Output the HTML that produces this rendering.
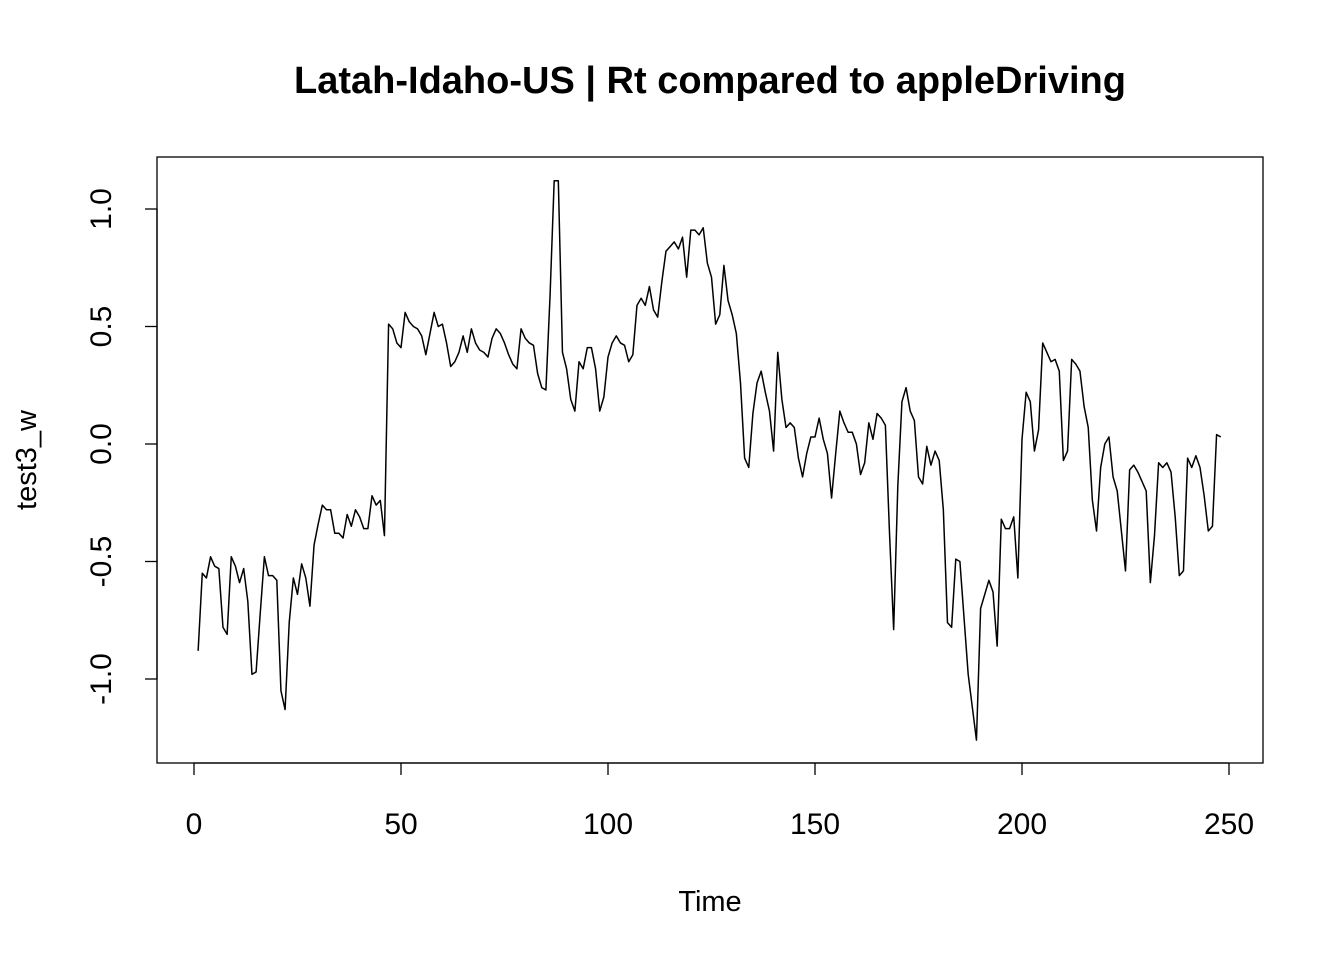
<!DOCTYPE html>
<html><head><meta charset="utf-8"><style>
body{margin:0;background:#fff}
svg text{font-family:"Liberation Sans",Arial,sans-serif;fill:#000}
</style></head><body>
<svg id="chart" width="1344" height="960" viewBox="0 0 1344 960">
<text x="710" y="93" text-anchor="middle" font-size="38" font-weight="bold">Latah-Idaho-US | Rt compared to appleDriving</text>
<rect x="157" y="157" width="1106" height="606" fill="none" stroke="#000" stroke-width="1.3"/>
<g id="xaxis"></g>
<g id="yaxis"></g>
<text x="710" y="911" text-anchor="middle" font-size="29">Time</text>
<text transform="translate(36,460) rotate(-90)" text-anchor="middle" font-size="29">test3_w</text>
<path id="series" fill="none" stroke="#000" stroke-width="1.5" stroke-linejoin="round"/>
</svg>
<script>
const values = [-0.88,-0.55,-0.57,-0.48,-0.52,-0.53,-0.78,-0.81,-0.48,-0.52,-0.59,-0.53,-0.67,-0.98,-0.97,-0.72,-0.48,-0.56,-0.56,-0.58,-1.05,-1.13,-0.76,-0.57,-0.64,-0.51,-0.57,-0.69,-0.43,-0.34,-0.26,-0.28,-0.28,-0.38,-0.38,-0.40,-0.30,-0.35,-0.28,-0.31,-0.36,-0.36,-0.22,-0.26,-0.24,-0.39,
0.51,0.49,0.43,0.41,0.56,0.52,0.50,0.49,0.46,0.38,0.47,0.56,0.50,0.51,0.43,0.33,0.35,0.39,0.46,0.39,0.49,0.43,0.40,0.39,0.37,0.45,0.49,0.47,0.43,0.38,0.34,0.32,0.49,0.45,0.43,0.42,0.30,0.24,0.23,0.63,1.12,1.12,0.39,0.32,0.19,0.14,0.35,0.32,0.41,0.41,0.32,
0.14,0.20,0.37,0.43,0.46,0.43,0.42,0.35,0.38,0.59,0.62,0.59,0.67,0.57,0.54,0.69,0.82,0.84,0.86,0.83,0.88,0.71,0.91,0.91,0.89,0.92,0.77,0.71,0.51,0.55,0.76,0.61,0.55,0.47,0.26,-0.06,-0.10,0.13,0.26,0.31,0.22,0.14,-0.03,0.39,0.19,0.07,0.09,0.07,-0.06,-0.14,
-0.04,0.03,0.03,0.11,0.02,-0.04,-0.23,-0.04,0.14,0.09,0.05,0.05,0.00,-0.13,-0.08,0.09,0.02,0.13,0.11,0.08,-0.38,-0.79,-0.18,0.18,0.24,0.14,0.10,-0.14,-0.17,-0.01,-0.09,-0.03,-0.07,-0.28,-0.76,-0.78,-0.49,-0.50,-0.74,-0.98,-1.12,-1.26,-0.70,-0.64,-0.58,-0.63,-0.86,-0.32,-0.36,-0.36,-0.31,-0.57,
0.02,0.22,0.18,-0.03,0.06,0.43,0.39,0.35,0.36,0.31,-0.07,-0.03,0.36,0.34,0.31,0.16,0.07,-0.24,-0.37,-0.10,0.00,0.03,-0.14,-0.20,-0.37,-0.54,-0.11,-0.09,-0.12,-0.16,-0.20,-0.59,-0.39,-0.08,-0.10,-0.08,-0.12,-0.31,-0.56,-0.54,-0.06,-0.10,-0.05,-0.10,-0.22,-0.37,-0.35,0.04,0.03];
const startTime = 1;
const xTicks = [0,50,100,150,200,250];
const yTicks = [-1.0,-0.5,0.0,0.5,1.0];
const yTickLabels = ["-1.0","-0.5","0.0","0.5","1.0"];

const X = t => 194 + (t - 0) * (1229 - 194) / 250;
const Y = v => 444 - v * 235;
const NS = "http://www.w3.org/2000/svg";
function mk(tag, attrs, parent){const e=document.createElementNS(NS,tag);for(const k in attrs)e.setAttribute(k,attrs[k]);parent.appendChild(e);return e;}

const xa = document.getElementById('xaxis');
mk('line',{x1:X(xTicks[0]),x2:X(xTicks[xTicks.length-1]),y1:763,y2:763,stroke:'#000','stroke-width':1.3},xa);
xTicks.forEach(t=>{
  const l = mk('line',{x1:X(t),x2:X(t),y1:763,y2:775,stroke:'#000','stroke-width':1.3},xa);
  
  
  const tx = mk('text',{x:X(t),y:834,'text-anchor':'middle','font-size':30},xa);
  tx.textContent = t;
  
  
});
const ya = document.getElementById('yaxis');
mk('line',{x1:157,x2:157,y1:Y(yTicks[0]),y2:Y(yTicks[yTicks.length-1]),stroke:'#000','stroke-width':1.3},ya);
yTicks.forEach((v,i)=>{
  const l = mk('line',{x1:145,x2:157,y1:Y(v),y2:Y(v),stroke:'#000','stroke-width':1.3},ya);
  
  
  const tx = mk('text',{transform:`translate(111,${Y(v)}) rotate(-90)`,'text-anchor':'middle','font-size':30},ya);
  tx.textContent = yTickLabels[i];
  
  
});
document.getElementById('series').setAttribute('d',
  values.map((v,i)=>(i?'L':'M')+X(startTime+i).toFixed(2)+','+Y(v).toFixed(2)).join(''));
</script>
</body></html>
